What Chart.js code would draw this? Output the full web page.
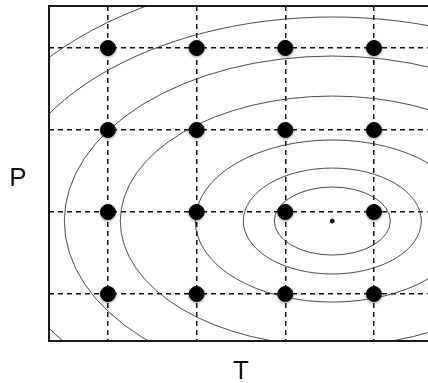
<!DOCTYPE html>
<html>
<head>
<meta charset="utf-8">
<script src="https://cdn.jsdelivr.net/npm/chart.js@4"></script>
<style>
  html, body { margin: 0; padding: 0; background: #fff; overflow: hidden; }
  #wrap { width: 428px; height: 383px; position: relative; }
</style>
</head>
<body>
<div id="wrap"><canvas id="gridChart"></canvas></div>
<script>
// sampling grid in T and P
const tGrid = [1, 2, 3, 4];
const pGrid = [1, 2, 3, 4];

// optimum and its contour levels (semi-axes in T and P units)
const optimum = [3.53, 1.89];
const contourA = [0.654, 1.004, 1.545, 2.391, 3.022, 3.755, 4.263];
const contourB = [0.415, 0.646, 0.988, 1.524, 2.012, 2.488, 3.012];

const gridPoints = [];
pGrid.forEach(function(p) {
    tGrid.forEach(function(t) {
        gridPoints.push({x: t, y: p});
    });
});

// contour ellipses, drawn under the grid points and clipped to the plot box
const contourPlugin = {
    id: 'contours',
    beforeDatasetsDraw(chart) {
        const {ctx, chartArea, scales: {x, y}} = chart;
        const cx = x.getPixelForValue(optimum[0]);
        const cy = y.getPixelForValue(optimum[1]);
        ctx.save();
        ctx.beginPath();
        ctx.rect(chartArea.left, chartArea.top, chartArea.right - chartArea.left, chartArea.bottom - chartArea.top);
        ctx.clip();
        ctx.strokeStyle = '#3a3a3a';
        ctx.lineWidth = 0.9;
        contourA.forEach(function(a, i) {
            const rx = Math.abs(x.getPixelForValue(optimum[0] + a) - cx);
            const ry = Math.abs(y.getPixelForValue(optimum[1] + contourB[i]) - cy);
            ctx.beginPath();
            ctx.ellipse(cx, cy, rx, ry, 0, 0, Math.PI * 2);
            ctx.stroke();
        });
        ctx.restore();
    }
};

// open frame (left, top, bottom) and the axis letters
const framePlugin = {
    id: 'frame',
    afterDraw(chart) {
        const {ctx, chartArea} = chart;
        ctx.save();
        ctx.strokeStyle = '#1a1a1a';
        ctx.lineWidth = 2;
        ctx.beginPath();
        ctx.moveTo(chartArea.right + 2, chartArea.top);
        ctx.lineTo(chartArea.left, chartArea.top);
        ctx.lineTo(chartArea.left, chartArea.bottom);
        ctx.lineTo(chartArea.right + 2, chartArea.bottom);
        ctx.stroke();

        ctx.fillStyle = '#111';
        ctx.font = '26px "Liberation Sans", Arial, sans-serif';
        ctx.textAlign = 'center';
        ctx.textBaseline = 'alphabetic';
        ctx.fillText('P', 18, 186);
        ctx.fillText('T', 241, 379);
        ctx.restore();
    }
};

// soft shadow under the grid points
const shadowPlugin = {
    id: 'pointShadow',
    beforeDatasetDraw(chart, args) {
        if (args.index !== 0) return;
        const ctx = chart.ctx;
        ctx.save();
        ctx.shadowColor = 'rgba(0,0,0,0.35)';
        ctx.shadowBlur = 3;
        ctx.shadowOffsetY = 1;
    },
    afterDatasetDraw(chart, args) {
        if (args.index !== 0) return;
        chart.ctx.restore();
    }
};

const gridAxis = function(values, min, max) {
    return {
        type: 'linear',
        min: min,
        max: max,
        afterBuildTicks: function(scale) {
            scale.ticks = values.map(function(v) { return {value: v}; });
        },
        ticks: { display: false },
        grid: { color: '#111', lineWidth: 1.5, drawTicks: false },
        border: { display: false, dash: [5, 4] }
    };
};

new Chart(document.getElementById('gridChart'), {
    type: 'scatter',
    data: {
        datasets: [{
            label: 'grid',
            data: gridPoints,
            backgroundColor: '#000',
            borderColor: '#000',
            pointRadius: 7.5,
            pointHoverRadius: 7.5
        }, {
            label: 'optimum',
            data: [{x: optimum[0], y: optimum[1]}],
            backgroundColor: '#000',
            borderColor: '#000',
            pointRadius: 2,
            pointHoverRadius: 2
        }]
    },
    options: {
        responsive: true,
        maintainAspectRatio: false,
        animation: false,
        layout: {
            autoPadding: false,
            padding: {left: 49, top: 6, right: 0, bottom: 42}
        },
        plugins: {
            legend: { display: false },
            tooltip: { enabled: false }
        },
        scales: {
            x: gridAxis(tGrid, 0.335, 4.609),
            y: gridAxis(pGrid, 0.427, 4.512)
        }
    },
    plugins: [contourPlugin, framePlugin, shadowPlugin]
});
</script>
</body>
</html>
